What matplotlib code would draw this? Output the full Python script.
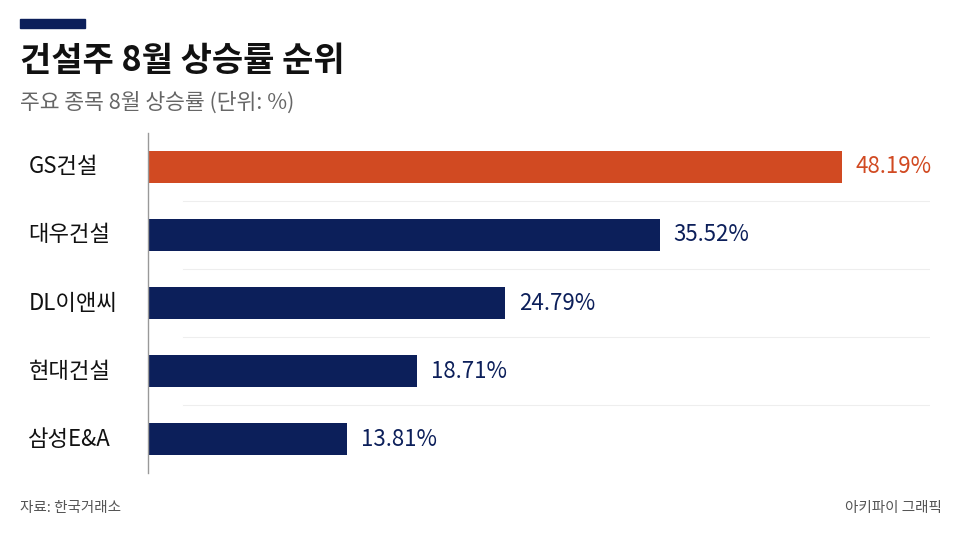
import matplotlib.pyplot as plt

plt.rcParams['font.family'] = ['Noto Sans CJK KR', 'DejaVu Sans']

# data
종목 = ['GS건설', '대우건설', 'DL이앤씨', '현대건설', '삼성E&A']
상승률 = [48.19, 35.52, 24.79, 18.71, 13.81]
색 = ['#d14a22', '#0c1f5a', '#0c1f5a', '#0c1f5a', '#0c1f5a']

fig = plt.figure(figsize=(9.6, 5.4), dpi=100)
fig.patch.set_facecolor('white')

ax = fig.add_axes([148/960, 67/540, 782/960, 340/540])
y = list(range(len(종목)))
ax.barh(y, 상승률, height=0.46, color=색)
ax.set_ylim(len(종목) - 0.5, -0.5)
ax.set_xlim(0, 54.3)

# separators between bars
for i in range(len(종목) - 1):
    ax.plot([2.45, 54.3], [i + 0.5, i + 0.5], color='#eeeeee', lw=0.8, zorder=0)

for s in ['top', 'right', 'bottom']:
    ax.spines[s].set_visible(False)
ax.spines['left'].set_color('#999999')
ax.spines['left'].set_linewidth(1)
ax.set_xticks([])
ax.set_yticks([])

# category labels and values
for i, (n, v, c) in enumerate(zip(종목, 상승률, 색)):
    ax.text(-8.3, i, n, ha='left', va='center', fontsize=16, color='#111111')
    ax.text(v + 0.95, i, f'{v:.2f}%', ha='left', va='center', fontsize=16, color=c)

# title block
fig.patches.append(plt.Rectangle((20/960, 1 - 28/540), 65/960, 9/540,
                                 transform=fig.transFigure, color='#0c1f5a'))
fig.text(20/960, 1 - 60/540, '건설주 8월 상승률 순위', fontsize=24.5, fontweight='bold',
         color='#111111', va='center', ha='left')
fig.text(20/960, 1 - 103/540, '주요 종목 8월 상승률 (단위: %)', fontsize=15.5,
         color='#666666', va='center', ha='left')

# footer
fig.text(20/960, 1 - 508/540, '자료: 한국거래소', fontsize=10.5, color='#555555',
         va='center', ha='left')
fig.text(942/960, 1 - 508/540, '아키파이 그래픽', fontsize=10.5, color='#555555',
         va='center', ha='right')

plt.savefig('out.png', dpi=100)
